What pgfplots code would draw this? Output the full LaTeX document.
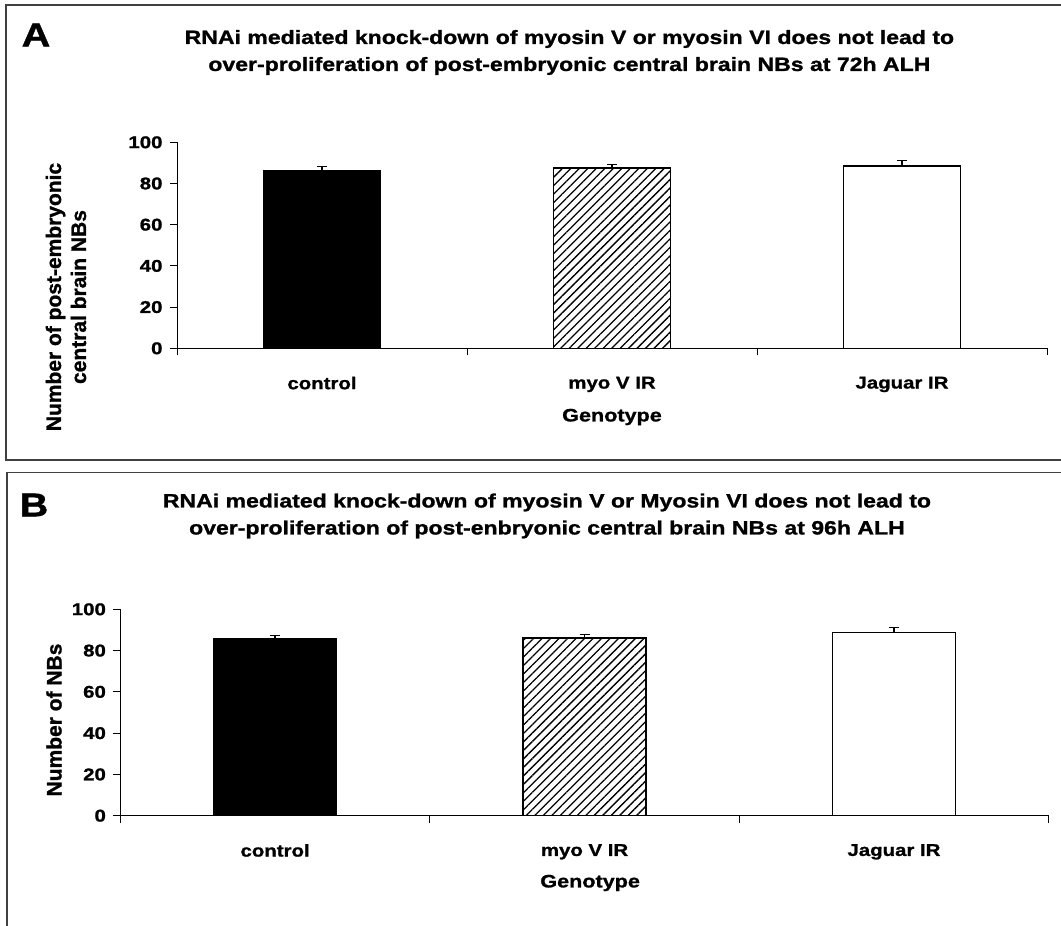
\documentclass[border=0pt]{standalone}
\usepackage{fontspec}
\setmainfont{Liberation Sans}[FakeStretch=1.2, BoldFeatures={FakeBold=1.2}]
\newfontfamily\yfont{Liberation Sans}[BoldFeatures={FakeBold=1.2}]
\usepackage{pgfplots}
\pgfplotsset{compat=1.18}
\usetikzlibrary{patterns.meta}

\newcommand\tfont{\fontsize{19.2}{27}\selectfont\bfseries}
\newcommand\tickfont{\fontsize{17}{20}\selectfont\bfseries}
\newcommand\xlfont{\fontsize{18}{21}\selectfont\bfseries}
\newcommand\ylfont{\yfont\fontsize{21}{25}\selectfont\bfseries}

\pgfplotsset{
  panel/.style={
    scale only axis,
    ymin=0, ymax=100, ytick={0,20,40,60,80,100},
    xmin=-0.5, xmax=2.5,
    enlargelimits=false,
    axis x line*=bottom, axis y line*=left,
    axis line style={line width=1pt,-},
    xtick={-0.5,0.5,1.5,2.5}, xticklabels={},
    extra x ticks={0,1,2},
    extra x tick labels={control,myo V IR,Jaguar IR},
    extra x tick style={major tick length=0pt, tick style={draw=none}},
    xticklabel style={yshift=-25pt},
    yticklabel style={xshift=-4pt},
    tick align=outside,
    major tick length=7pt,
    tick style={line width=1pt, black},
    ticklabel style={font=\tickfont},
    /pgf/number format/assume math mode=true,
    clip=false,
  },
  barA/.style={ybar, bar shift=0pt, draw=black, line width=1.3pt,
    error bars/y dir=plus, error bars/y explicit,
    error bars/error bar style={line width=1.3pt, black},
    error bars/error mark options={rotate=90, mark size=5pt, line width=1.3pt, black}},
}

\begin{document}
\begin{tikzpicture}[x=1pt,y=1pt]
\path[use as bounding box] (0,0) rectangle (1061,926);
\draw[line width=1.3pt, black!75] (1061,921) -- (6,921) -- (6,466) -- (1061,466);
\draw[line width=1.3pt, black!75] (1061,453.3) -- (7,453.3) -- (7,0);
\node[font=\fontsize{33}{36}\selectfont\bfseries] at (36,891) {A};
\node[font=\fontsize{33}{36}\selectfont\bfseries] at (34,421) {B};

\begin{axis}[panel, at={(177pt,577.7pt)}, anchor=south west, width=870pt, height=206pt,
  title={RNAi mediated knock-down of myosin V or myosin VI does not lead to\\over-proliferation of post-embryonic central brain NBs at 72h ALH},
  title style={at={(axis description cs:0.451,1.4068)}, anchor=center, align=center, font=\tfont},
  ylabel={Number of post-embryonic\\central brain NBs},
  ylabel style={at={(axis description cs:-0.1276,0.249)}, anchor=center, align=center, font=\ylfont},
  xlabel={Genotype},
  xlabel style={at={(axis description cs:0.5,-0.3335)}, anchor=center, font=\xlfont}]
\addplot[barA, bar width=117pt, fill=black] coordinates {(0,86.2) +- (0,2.0)};
\addplot[barA, bar width=117pt, pattern={Lines[angle=45,distance=6pt,line width=1.3pt]}] coordinates {(1,87.5) +- (0,1.8)};
\addplot[barA, bar width=117pt, fill=white] coordinates {(2,88.5) +- (0,2.6)};
\end{axis}

\begin{axis}[panel, at={(120.4pt,110.3pt)}, anchor=south west, width=928.3pt, height=206.4pt,
  title={RNAi mediated knock-down of myosin V or Myosin VI does not lead to\\over-proliferation of post-enbryonic central brain NBs at 96h ALH},
  title style={at={(axis description cs:0.4595,1.423)}, anchor=center, align=center, font=\tfont},
  ylabel={Number of NBs},
  ylabel style={at={(axis description cs:-0.0715,0.4637)}, anchor=center, align=center, font=\ylfont},
  xlabel={Genotype},
  xlabel style={at={(axis description cs:0.506,-0.326)}, anchor=center, font=\xlfont}]
\addplot[barA, bar width=123pt, fill=black] coordinates {(0,85.8) +- (0,1.4)};
\addplot[barA, bar width=123pt, pattern={Lines[angle=45,distance=6pt,line width=1.3pt]}] coordinates {(1,86.1) +- (0,1.6)};
\addplot[barA, bar width=123pt, fill=white] coordinates {(2,88.6) +- (0,2.5)};
\end{axis}
\end{tikzpicture}
\end{document}
